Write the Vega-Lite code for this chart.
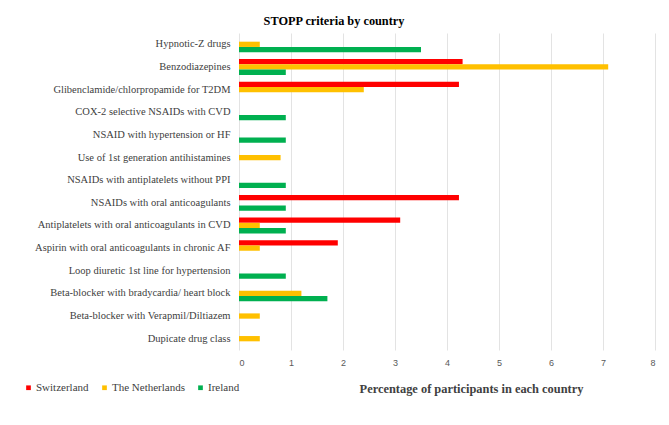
{
  "$schema": "https://vega.github.io/schema/vega-lite/v6.json",
  "width": 416,
  "height": 317,
  "autosize": {"type": "none"},
  "padding": {"left": 239, "top": 33, "right": 14, "bottom": 75},
  "background": "white",
  "title": {
    "text": "STOPP criteria by country",
    "font": "Liberation Serif",
    "fontSize": 12.3,
    "fontWeight": "bold",
    "color": "#000000",
    "anchor": "middle",
    "dx": -113,
    "offset": 6
  },
  "data": {
    "values": [
      {"criterion": "Hypnotic-Z drugs", "country": "The Netherlands", "pct": 0.4},
      {"criterion": "Hypnotic-Z drugs", "country": "Ireland", "pct": 3.5},
      {"criterion": "Benzodiazepines", "country": "Switzerland", "pct": 4.3},
      {"criterion": "Benzodiazepines", "country": "The Netherlands", "pct": 7.1},
      {"criterion": "Benzodiazepines", "country": "Ireland", "pct": 0.9},
      {"criterion": "Glibenclamide/chlorpropamide for T2DM", "country": "Switzerland", "pct": 4.23},
      {"criterion": "Glibenclamide/chlorpropamide for T2DM", "country": "The Netherlands", "pct": 2.4},
      {"criterion": "COX-2 selective NSAIDs with CVD", "country": "Ireland", "pct": 0.9},
      {"criterion": "NSAID with hypertension or HF", "country": "Ireland", "pct": 0.9},
      {"criterion": "Use of 1st generation antihistamines", "country": "The Netherlands", "pct": 0.8},
      {"criterion": "NSAIDs with antiplatelets without PPI", "country": "Ireland", "pct": 0.9},
      {"criterion": "NSAIDs with oral anticoagulants", "country": "Switzerland", "pct": 4.23},
      {"criterion": "NSAIDs with oral anticoagulants", "country": "Ireland", "pct": 0.9},
      {"criterion": "Antiplatelets with oral anticoagulants in CVD", "country": "Switzerland", "pct": 3.1},
      {"criterion": "Antiplatelets with oral anticoagulants in CVD", "country": "The Netherlands", "pct": 0.4},
      {"criterion": "Antiplatelets with oral anticoagulants in CVD", "country": "Ireland", "pct": 0.9},
      {"criterion": "Aspirin with oral anticoagulants in chronic AF", "country": "Switzerland", "pct": 1.9},
      {"criterion": "Aspirin with oral anticoagulants in chronic AF", "country": "The Netherlands", "pct": 0.4},
      {"criterion": "Loop diuretic 1st line for hypertension", "country": "Ireland", "pct": 0.9},
      {"criterion": "Beta-blocker with bradycardia/ heart block", "country": "The Netherlands", "pct": 1.2},
      {"criterion": "Beta-blocker with bradycardia/ heart block", "country": "Ireland", "pct": 1.7},
      {"criterion": "Beta-blocker with Verapmil/Diltiazem", "country": "The Netherlands", "pct": 0.4},
      {"criterion": "Dupicate drug class", "country": "The Netherlands", "pct": 0.4}
    ]
  },
  "mark": {"type": "bar"},
  "encoding": {
    "y": {
      "field": "criterion",
      "type": "nominal",
      "sort": [
        "Hypnotic-Z drugs",
        "Benzodiazepines",
        "Glibenclamide/chlorpropamide for T2DM",
        "COX-2 selective NSAIDs with CVD",
        "NSAID with hypertension or HF",
        "Use of 1st generation antihistamines",
        "NSAIDs with antiplatelets without PPI",
        "NSAIDs with oral anticoagulants",
        "Antiplatelets with oral anticoagulants in CVD",
        "Aspirin with oral anticoagulants in chronic AF",
        "Loop diuretic 1st line for hypertension",
        "Beta-blocker with bradycardia/ heart block",
        "Beta-blocker with Verapmil/Diltiazem",
        "Dupicate drug class"
      ],
      "scale": {"paddingInner": 0.3, "paddingOuter": 0.15},
      "axis": {
        "title": null,
        "domain": false,
        "ticks": false,
        "grid": false,
        "labelFont": "Liberation Serif",
        "labelFontSize": 10.5,
        "labelColor": "#404040",
        "labelPadding": 9,
        "labelLimit": 300
      }
    },
    "yOffset": {
      "field": "country",
      "type": "nominal",
      "sort": ["Switzerland", "The Netherlands", "Ireland"],
      "scale": {"domain": ["Switzerland", "The Netherlands", "Ireland"], "paddingInner": 0, "paddingOuter": 0}
    },
    "x": {
      "field": "pct",
      "type": "quantitative",
      "scale": {"domain": [0, 8], "nice": false},
      "axis": {
        "title": "Percentage of participants  in each country",
        "titleFont": "Liberation Serif",
        "titleFontSize": 12.4,
        "titleFontWeight": "bold",
        "titleColor": "#404040",
        "titleX": 232,
        "titleY": 38,
        "titleBaseline": "middle",
        "values": [0, 1, 2, 3, 4, 5, 6, 7, 8],
        "labelOverlap": false,
        "domain": false,
        "ticks": false,
        "grid": true,
        "gridColor": "#E3E3E3",
        "gridWidth": 1,
        "labelFont": "Liberation Sans",
        "labelFontSize": 9,
        "labelColor": "#595959",
        "labelPadding": 8
      }
    },
    "color": {
      "field": "country",
      "type": "nominal",
      "scale": {
        "domain": ["Switzerland", "The Netherlands", "Ireland"],
        "range": ["#FF0000", "#FFC000", "#00B050"]
      },
      "legend": {
        "title": null,
        "orient": "none",
        "direction": "horizontal",
        "legendX": -216,
        "legendY": 349,
        "symbolType": "square",
        "symbolSize": 22,
        "symbolStrokeWidth": 0,
        "labelFont": "Liberation Serif",
        "labelFontSize": 11,
        "labelColor": "#404040",
        "labelOffset": 2,
        "columnPadding": 10
      }
    }
  },
  "config": {
    "view": {"stroke": null}
  }
}
